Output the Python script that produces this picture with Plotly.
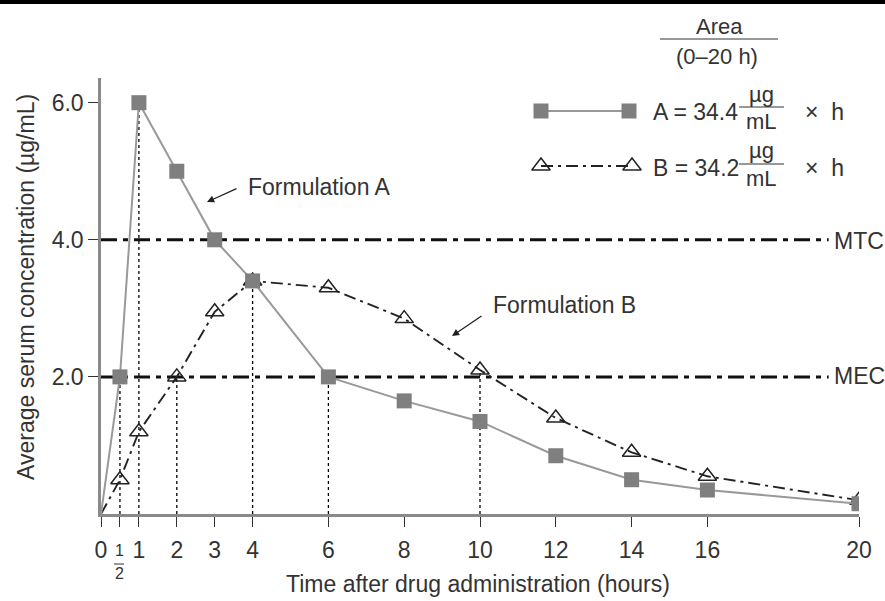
import plotly.graph_objects as go

# ---- data ----
time_h = [0, 0.5, 1, 2, 3, 4, 6, 8, 10, 12, 14, 16, 20]
conc_A = [0, 2.0, 6.0, 5.0, 4.0, 3.4, 2.0, 1.65, 1.35, 0.85, 0.5, 0.35, 0.15]
conc_B = [0, 0.5, 1.2, 2.0, 2.95, 3.4, 3.3, 2.85, 2.1, 1.4, 0.9, 0.55, 0.2]
tick_vals = [0, 0.5, 1, 2, 3, 4, 6, 8, 10, 12, 14, 16, 20]
tick_text = ["0", "", "1", "2", "3", "4", "6", "8", "10", "12", "14", "16", "20"]
y_tick_vals = [2.0, 4.0, 6.0]
y_tick_text = ["2.0", "4.0", "6.0"]
MTC = 4.0
MEC = 2.0
line_end_h = 19.2
# drop lines: (time, series)
drops = [(0.5, "A"), (1, "A"), (2, "B"), (4, "A"), (6, "A"), (10, "B")]
area_A = 34.4
area_B = 34.2

FONT = "Liberation Sans, Arial, Helvetica, sans-serif"
TXT = "#333333"
FS = 23

# plot area in pixels
L, R, T, B = 101, 859, 78, 514
W, H = 885, 601


def px(x):
    return (x - L) / (R - L)


def py(y):
    return (B - y) / (B - T)


fig = go.Figure()

series = {"A": conc_A, "B": conc_B}
for t, s in drops:
    yv = series[s][time_h.index(t)]
    fig.add_trace(go.Scatter(x=[t, t], y=[0, yv], mode="lines",
                             line=dict(color="black", width=1.3, dash="3px,3px"),
                             showlegend=False, hoverinfo="skip"))

for lvl in (MTC, MEC):
    fig.add_trace(go.Scatter(x=[0, line_end_h], y=[lvl, lvl], mode="lines",
                             line=dict(color="#111111", width=3, dash="16px,6px,5px,6px"),
                             showlegend=False, hoverinfo="skip"))

B_LINE = dict(color="#222222", width=1.9, dash="12px,5px,3px,5px")
A_LINE = dict(color="#999999", width=2)


def b_mark(vals):
    return dict(symbol="triangle-up-open", size=[0 if v == 0 else 16 for v in vals],
                color="#222222", opacity=1, line=dict(width=1.5))


def a_mark(vals):
    return dict(symbol="square", size=[0 if v == 0 else 15 for v in vals],
                color="#7f7f7f", opacity=1, line=dict(width=0))


fig.add_trace(go.Scatter(x=time_h, y=conc_B, mode="lines+markers", name="B",
                         line=B_LINE, marker=b_mark(conc_B), showlegend=False,
                         hoverinfo="skip"))
fig.add_trace(go.Scatter(x=time_h, y=conc_A, mode="lines+markers", name="A",
                         line=A_LINE, marker=a_mark(conc_A), showlegend=False,
                         hoverinfo="skip"))

# legend glyphs on pixel-overlay axes
fig.add_trace(go.Scatter(x=[541, 629], y=[111, 111], mode="lines+markers",
                         xaxis="x2", yaxis="y2", line=A_LINE, marker=a_mark([1, 1]),
                         showlegend=False, hoverinfo="skip"))
fig.add_trace(go.Scatter(x=[541, 632], y=[166, 166], mode="lines+markers",
                         xaxis="x2", yaxis="y2", line=B_LINE, marker=b_mark([1, 1]),
                         showlegend=False, hoverinfo="skip"))

ann = []


def text(x, y, s, size=FS, xanchor="left", color=TXT):
    ann.append(dict(x=px(x), y=py(y), xref="paper", yref="paper", text=s,
                    showarrow=False, xanchor=xanchor, yanchor="middle",
                    font=dict(family=FONT, size=size, color=color)))


# legend header
text(719, 27, "Area", xanchor="center", size=22)
text(717, 57, "(0–20 h)", xanchor="center", size=22)
# legend rows
for yrow, lab, val in [(112, "A", area_A), (168, "B", area_B)]:
    text(651, yrow, f"{lab} = {val}")
    text(761, yrow - 18, "µg", xanchor="center", size=22)
    text(761, yrow + 10, "mL", xanchor="center", size=22)
    text(803, yrow, "×  h")

# MTC / MEC labels
text(832, 241, "MTC")
text(832, 376, "MEC")

# formulation labels
text(246, 187, "Formulation A")
text(491, 305, "Formulation B")
ann.append(dict(x=px(207), y=py(202), xref="paper", yref="paper", text="",
                showarrow=True, ax=31, ay=-14, arrowhead=2, arrowsize=1.1,
                arrowwidth=1.3, arrowcolor="#222222"))
ann.append(dict(x=px(452), y=py(336), xref="paper", yref="paper", text="",
                showarrow=True, ax=31, ay=-21, arrowhead=2, arrowsize=1.1,
                arrowwidth=1.3, arrowcolor="#222222"))

# the 1/2 tick label
text(119, 550, "1", xanchor="center", size=16)
text(119, 573, "2", xanchor="center", size=16)

# axis titles
text(478, 584, "Time after drug administration (hours)", xanchor="center")
ann.append(dict(x=px(26), y=py(287), xref="paper", yref="paper",
                text="Average serum concentration (µg/mL)", showarrow=False,
                textangle=-90, xanchor="center", yanchor="middle",
                font=dict(family=FONT, size=FS, color=TXT)))

shapes = [
    dict(type="line", xref="paper", yref="paper", x0=px(660), x1=px(778),
         y0=py(39), y1=py(39), line=dict(color="#333333", width=1.2)),
    dict(type="line", xref="paper", yref="paper", x0=px(739), x1=px(784),
         y0=py(107), y1=py(107), line=dict(color="#333333", width=1.2)),
    dict(type="line", xref="paper", yref="paper", x0=px(739), x1=px(784),
         y0=py(164), y1=py(164), line=dict(color="#333333", width=1.2)),
    dict(type="line", xref="paper", yref="paper", x0=px(114), x1=px(124),
         y0=py(564), y1=py(564), line=dict(color="#333333", width=1)),
    dict(type="line", xref="paper", yref="paper", x0=px(0), x1=px(885),
         y0=py(2), y1=py(2), line=dict(color="black", width=4)),
]

fig.update_layout(
    width=W, height=H,
    margin=dict(l=L, r=W - R, t=T, b=H - B),
    paper_bgcolor="white", plot_bgcolor="white",
    font=dict(family=FONT, size=FS, color=TXT),
    hovermode=False,
    xaxis=dict(range=[0, 20], tickvals=tick_vals, ticktext=tick_text,
               showgrid=False, zeroline=False, showline=True,
               linecolor="#8a8a8a", linewidth=2.5, ticks="outside",
               ticklen=10, tickcolor="#333333", tickwidth=1.3,
               ticklabelstandoff=4,
               tickfont=dict(size=FS, color=TXT)),
    yaxis=dict(range=[0, 6.36], tickvals=y_tick_vals, ticktext=y_tick_text,
               showgrid=False, zeroline=False, showline=True,
               linecolor="#8a8a8a", linewidth=2.5, ticks="outside",
               ticklen=10, tickcolor="#333333", tickwidth=1.3,
               tickfont=dict(size=FS, color=TXT)),
    xaxis2=dict(range=[L, R], overlaying="x", visible=False),
    yaxis2=dict(range=[B, T], overlaying="y", visible=False),
    annotations=ann,
    shapes=shapes,
)

fig.write_html("out.html", config={"displayModeBar": False},
               post_script="document.body.style.margin='0';"
                           "document.body.style.overflow='hidden';")
